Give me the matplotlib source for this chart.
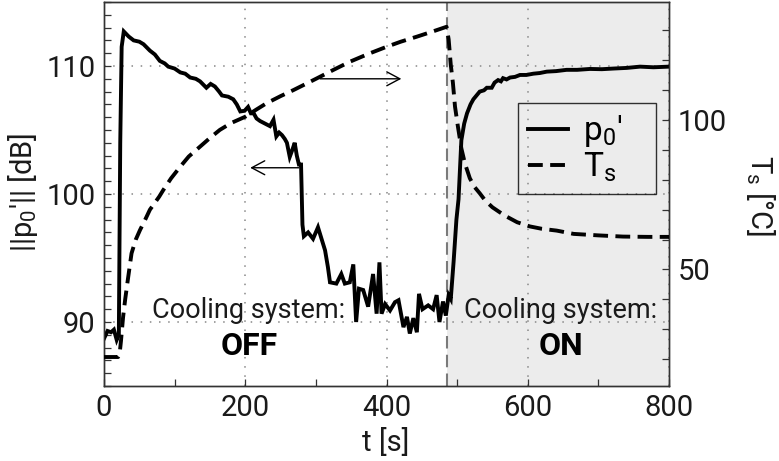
import numpy as np
import matplotlib
matplotlib.use("Agg")
import matplotlib.pyplot as plt
from matplotlib.ticker import MultipleLocator

plt.rcParams['font.family'] = ['Roboto', 'DejaVu Sans']
plt.rcParams['mathtext.fontset'] = 'custom'
plt.rcParams['mathtext.rm'] = 'Roboto'
plt.rcParams['mathtext.it'] = 'Roboto'

# acoustic pressure level ||p0'|| [dB] vs time [s]
t_p = [0, 5, 10, 14, 18, 21, 23, 25, 28, 35, 42, 50, 56, 65, 72, 79, 86, 91,
       100, 108, 115, 122, 130, 136, 145, 151, 157, 163, 167, 176, 183, 188,
       193, 199, 204, 208, 212, 216, 221, 228, 235, 240, 244, 248, 252, 256,
       259, 263, 267, 270, 273, 276, 279, 281, 283, 289, 296, 303, 308, 313,
       317, 320, 329, 336, 341, 348, 353, 357, 361, 367, 374, 381, 386, 390,
       393, 398, 405, 412, 417, 424, 429, 433, 438, 443, 446, 451, 459, 466,
       471, 475, 480, 484, 488, 491, 495, 499, 502, 506, 510, 514, 519, 523,
       532, 538, 542, 549, 553, 558, 562, 565, 570, 575, 582, 589, 598, 608,
       617, 627, 640, 655, 670, 688, 705, 721, 740, 759, 778, 800]
p_db = [88.7, 89.3, 89.2, 89.4, 88.6, 89.0, 104.0, 111.5, 112.7, 112.3, 112.0,
        111.9, 111.7, 111.2, 110.9, 110.4, 110.2, 109.95, 109.8, 109.5, 109.4,
        109.1, 109.0, 108.8, 108.3, 108.6, 108.4, 108.0, 107.7, 107.6, 107.4,
        107.0, 106.45, 106.5, 106.8, 106.3, 106.3, 105.9, 105.7, 105.5, 105.3,
        105.8, 104.5, 104.8, 104.6, 104.3, 104.0, 102.9, 103.5, 104.0, 103.0,
        102.3, 102.3, 97.6, 96.7, 97.0, 96.5, 97.4, 96.5, 95.6, 94.3, 93.1,
        93.0, 93.75, 93.0, 93.1, 94.5, 90.0, 92.6, 92.5, 91.2, 93.75, 90.65,
        94.66, 90.65, 91.4, 90.9, 91.55, 91.7, 89.6, 90.4, 89.1, 90.3, 89.2,
        92.2, 91.0, 91.3, 91.0, 92.1, 90.0, 91.6, 90.5, 92.1, 91.8, 94.7, 98.0,
        99.6, 104.2, 105.5, 106.3, 107.0, 107.4, 108.0, 108.1, 108.3, 108.3,
        108.7, 108.9, 108.8, 109.05, 108.95, 109.1, 109.15, 109.3, 109.3, 109.4,
        109.45, 109.56, 109.6, 109.7, 109.7, 109.77, 109.75, 109.8, 109.85,
        109.95, 109.9, 109.95]

# surface temperature T_s [°C] vs time [s]
t_T = [0, 20, 22, 24, 27, 30, 34, 39, 45, 51, 58, 65, 78, 84, 95, 108, 120,
       136, 150, 164, 180, 200, 215, 230, 250, 268, 285, 301, 325, 348, 375,
       400, 420, 443, 465, 485, 488, 491, 494, 497, 501, 506, 511, 518, 525,
       532, 540, 550, 560, 570, 585, 603, 620, 641, 665, 700, 735, 770, 800]
T_s = [20.7, 20.7, 21.5, 26.0, 34.0, 40.0, 47.0, 55.4, 60.0, 63.2, 66.5, 70.0,
       74.3, 76.6, 80.5, 84.4, 87.8, 91.1, 94.0, 96.7, 99.0, 101.1, 103.4,
       105.6, 108.0, 110.0, 112.0, 113.9, 116.8, 119.5, 122.2, 124.5, 126.2,
       127.9, 129.6, 131.2, 127.0, 118.5, 112.5, 104.5, 98.0, 90.5, 85.5,
       80.5, 77.5, 75.5, 73.0, 70.8, 69.2, 67.7, 65.8, 64.4, 63.6, 63.0, 61.9,
       61.4, 61.0, 60.9, 60.9]

t_switch = 485

fig = plt.figure(figsize=(7.79, 4.61), dpi=100)
ax = fig.add_axes([104 / 779, 1 - 386 / 461, 565 / 779, 384 / 461])
ax2 = ax.twinx()

ax.axvspan(t_switch, 800, color='#ececec', lw=0, zorder=0.5)
ax.axvline(t_switch, color='#7a7a7a', lw=1.5, ls=(0, (6, 3)), zorder=2)

l1, = ax.plot(t_p, p_db, color='k', lw=2.8, solid_joinstyle='miter', zorder=3)
l2, = ax2.plot(t_T, T_s, color='k', lw=2.8, ls=(0, (3.8, 1.9)),
               dash_capstyle='butt', zorder=3)

ax.set_xlim(0, 800)
ax.set_ylim(85, 115)
ax2.set_ylim(11, 139.5)

ax.xaxis.set_major_locator(MultipleLocator(200))
ax.xaxis.set_minor_locator(MultipleLocator(100))
ax.yaxis.set_major_locator(MultipleLocator(10))
ax.yaxis.set_minor_locator(MultipleLocator(1))
ax2.yaxis.set_major_locator(MultipleLocator(50))
ax2.yaxis.set_minor_locator(MultipleLocator(10))

for a in (ax, ax2):
    a.tick_params(which='both', direction='in', length=5, width=0.9,
                  color='#333333', labelsize=21, pad=6, labelcolor='#1a1a1a')
    for s in a.spines.values():
        s.set_linewidth(1.0)
        s.set_color('#333333')
ax.tick_params(which='both', top=False, right=False)
ax2.tick_params(which='both', top=False, left=False)

ax.grid(True, which='major', color='#888888', lw=1.1, ls=(0, (1, 5)))

ax.text(205, 90.35, 'Cooling system:', fontsize=19.5, ha='center',
        va='baseline', color='#1a1a1a', zorder=4)
ax.text(205, 87.45, 'OFF', fontsize=23, fontweight='bold', ha='center',
        va='baseline', zorder=4)
ax.text(647, 90.3, 'Cooling system:', fontsize=19.5, ha='center',
        va='baseline', color='#1a1a1a', zorder=4)
ax.text(647, 87.4, 'ON', fontsize=23, fontweight='bold', ha='center',
        va='baseline', zorder=4)

arrow = dict(arrowstyle='->,head_length=0.47,head_width=0.25',
             mutation_scale=20, lw=1.0, color='k', shrinkA=0, shrinkB=0)
ax.annotate('', xy=(421, 109.0), xytext=(306, 109.0), arrowprops=arrow)
ax.annotate('', xy=(207, 102.05), xytext=(276, 102.05), arrowprops=arrow)

leg = ax2.legend([l1, l2], ["p$_0$'", 'T$_\\mathrm{s}$'], fontsize=24,
                 loc='upper left', bbox_to_anchor=(0.733, 0.502, 0.2435, 0.234),
                 mode='expand', borderaxespad=0, frameon=True, fancybox=False,
                 handlelength=1.2, handletextpad=0.45, labelspacing=0.05,
                 borderpad=0.3)
leg.get_frame().set_facecolor('none')
leg.get_frame().set_edgecolor('k')
leg.get_frame().set_linewidth(1.0)

fig.text(23 / 779, 1 - 192 / 461, "||p$_0$'|| [dB]", fontsize=21,
         rotation=90, ha='center', va='center', color='#1a1a1a')
fig.text(761 / 779, 1 - 196 / 461, 'T$_\\mathrm{s}$ [°C]', fontsize=21,
         rotation=270, ha='center', va='center', color='#1a1a1a')
fig.text(386 / 779, 1 - 442 / 461, 't [s]', fontsize=21,
         ha='center', va='center', color='#1a1a1a')

fig.savefig('out.png', dpi=100)
